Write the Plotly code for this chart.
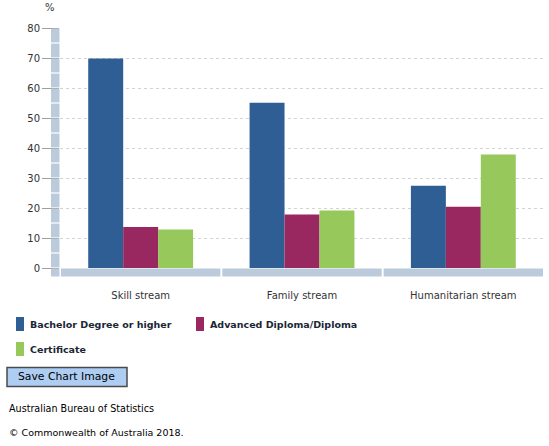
"""
Qualification level by migration stream (ABS style grouped bar chart)
"""

import plotly.graph_objects as go

categories = ["Skill stream", "Family stream", "Humanitarian stream"]
bachelor = [69.8, 55.1, 27.4]
diploma = [13.7, 17.8, 20.4]
certificate = [12.8, 19.2, 37.8]
series_names = ["Bachelor Degree or higher", "Advanced Diploma/Diploma", "Certificate"]
series_colors = ["#2f5e95", "#9a2860", "#96c85c"]
y_ticks = [0, 10, 20, 30, 40, 50, 60, 70, 80]

# the page body margin is removed (see post_script), so the figure fills the window
W, H = 549, 446
L, T = 60, 28
PW, PH = 484, 240
R, B = W - L - PW, H - T - PH
FONT = "Verdana, DejaVu Sans, sans-serif"
BAR_COL = "#bccbdc"


def px_x(x):
    # window pixel -> paper x
    return (x - L) / PW


def px_y(y):
    # window pixel -> paper y
    return (T + PH - y) / PH


fig = go.Figure()
for name, vals, col in zip(series_names, [bachelor, diploma, certificate], series_colors):
    fig.add_trace(go.Bar(x=categories, y=vals, name=name, marker_color=col,
                         marker_line_width=0, showlegend=False))

shapes = []
# vertical axis band, broken into segments
for v in range(0, 80, 5):
    shapes.append(dict(type="rect", xref="paper", yref="y", x0=px_x(51), x1=px_x(59.5),
                       y0=v + 0.2, y1=v + 5 - 0.2, fillcolor=BAR_COL, line_width=0,
                       layer="above"))
shapes.append(dict(type="rect", xref="paper", yref="paper", x0=px_x(51), x1=px_x(59.5),
                   y0=px_y(276.5), y1=px_y(268.5), fillcolor=BAR_COL, line_width=0,
                   layer="above"))
# horizontal axis band, one segment per category
for i in range(len(categories)):
    shapes.append(dict(type="rect", xref="x", yref="paper", x0=i - 0.5 + 0.006, x1=i + 0.5 - 0.006,
                       y0=px_y(276.5), y1=px_y(268.5), fillcolor=BAR_COL, line_width=0,
                       layer="above"))
# "Save Chart Image" button
shapes.append(dict(type="rect", xref="paper", yref="paper", x0=px_x(7), x1=px_x(127),
                   y0=px_y(386.5), y1=px_y(367.5), fillcolor="#aecdf3",
                   line=dict(color="#4a4a4a", width=1.5), layer="above"))

annotations = [
    dict(text="%", xref="paper", yref="paper", x=px_x(50), y=px_y(7.5), showarrow=False,
         xanchor="center", yanchor="middle", font=dict(family=FONT, size=10, color="#333333")),
    dict(text="Save Chart Image", xref="paper", yref="paper", x=px_x(66.5), y=px_y(376.5),
         showarrow=False, xanchor="center", yanchor="middle",
         font=dict(family=FONT, size=10.8, color="#000000")),
    dict(text="Australian Bureau of Statistics", xref="paper", yref="paper", x=px_x(7),
         y=px_y(408), showarrow=False, xanchor="left", yanchor="middle",
         font=dict(family=FONT, size=9.6, color="#000000")),
    dict(text="© Commonwealth of Australia 2018.", xref="paper", yref="paper", x=px_x(7),
         y=px_y(432), showarrow=False, xanchor="left", yanchor="middle",
         font=dict(family=FONT, size=9.5, color="#000000")),
]

# legend drawn by hand: tall swatches and bold labels, two per row
legend_pos = [(16, 324), (196, 324), (16, 349)]
for name, col, (lx, ly) in zip(series_names, series_colors, legend_pos):
    shapes.append(dict(type="rect", xref="paper", yref="paper", x0=px_x(lx), x1=px_x(lx + 8),
                       y0=px_y(ly + 7), y1=px_y(ly - 7), fillcolor=col, line_width=0))
    annotations.append(dict(text="<b>" + name + "</b>", xref="paper", yref="paper",
                            x=px_x(lx + 12), y=px_y(ly), showarrow=False, xanchor="left",
                            yanchor="middle",
                            font=dict(family=FONT, size=9.5, color="#1a2633")))

fig.update_layout(
    width=W, height=H,
    margin=dict(l=L, r=R, t=T, b=B, autoexpand=False),
    paper_bgcolor="white", plot_bgcolor="white",
    barmode="group", bargap=0.35, bargroupgap=0,
    font=dict(family=FONT, size=10, color="#333333"),
    showlegend=False,
    shapes=shapes,
    annotations=annotations,
)
fig.update_xaxes(showgrid=False, showline=True, mirror=True, linecolor="white", linewidth=1,
                 zeroline=False, ticks="", ticklabelstandoff=18,
                 tickfont=dict(family=FONT, size=10, color="#333333"))
fig.update_yaxes(range=[0, 80], tickvals=y_ticks, showgrid=True, gridcolor="#d3d3d3",
                 griddash="dot", gridwidth=1, zeroline=False, showline=False,
                 ticks="outside", ticklen=17, tickcolor="#a0a0a0", tickwidth=1,
                 tickfont=dict(family=FONT, size=10, color="#333333"))

fig.write_html("out.html", config={"displayModeBar": False},
               post_script="document.body.style.margin = '0';")
